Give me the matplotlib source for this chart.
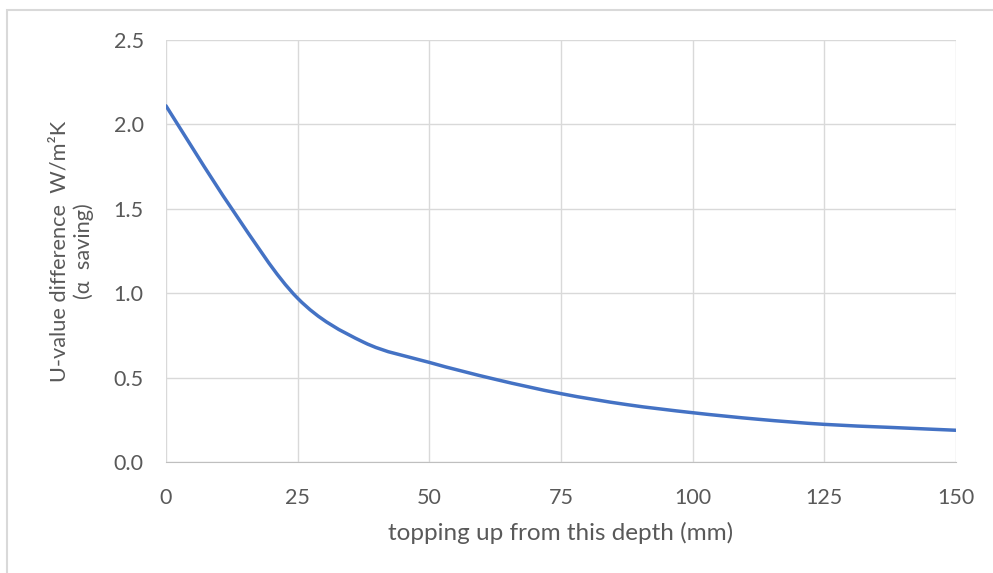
import matplotlib.pyplot as plt
import numpy as np
from matplotlib.path import Path
from matplotlib.patches import PathPatch, Rectangle

# values
depth = [0, 12.5, 25, 37.5, 50, 62.5, 75, 87.5, 100, 112.5, 125, 137.5, 150]
u_diff = [2.11, 1.50, 0.97, 0.71, 0.59, 0.49, 0.405, 0.34, 0.292, 0.253, 0.223, 0.205, 0.188]
xticks = [0, 25, 50, 75, 100, 125, 150]
yticks = [0.0, 0.5, 1.0, 1.5, 2.0, 2.5]

grey = '#595959'
grid = '#d9d9d9'

plt.rcParams['font.family'] = ['Lato', 'DejaVu Sans']


def smooth_path(x, y):
    # excel style smoothed line: bezier with control points from neighbours
    x = np.asarray(x, float)
    y = np.asarray(y, float)
    n = len(x)
    verts = [(x[0], y[0])]
    codes = [Path.MOVETO]
    for i in range(n - 1):
        i0 = max(i - 1, 0)
        i3 = min(i + 2, n - 1)
        c1 = (x[i] + (x[i + 1] - x[i0]) / 6, y[i] + (y[i + 1] - y[i0]) / 6)
        c2 = (x[i + 1] - (x[i3] - x[i]) / 6, y[i + 1] - (y[i3] - y[i]) / 6)
        verts += [c1, c2, (x[i + 1], y[i + 1])]
        codes += [Path.CURVE4] * 3
    return Path(verts, codes)


fig = plt.figure(figsize=(9.93, 5.73), dpi=100)
ax = fig.add_axes([166 / 993, 1 - 462 / 573, 790 / 993, 422 / 573])

ax.add_patch(PathPatch(smooth_path(depth, u_diff), facecolor='none',
                       edgecolor='#4472C4', lw=2.5, capstyle='round'))
ax.plot(depth, u_diff, alpha=0)

ax.set_xlim(0, 150)
ax.set_ylim(0, 2.5)
ax.set_xticks(xticks)
ax.set_yticks(yticks)
ax.set_yticklabels(['%.1f' % v for v in yticks])
ax.grid(True, color=grid, lw=1)
ax.set_axisbelow(True)
for s in ['top', 'right', 'left']:
    ax.spines[s].set_visible(False)
ax.spines['bottom'].set_color('#bfbfbf')
ax.tick_params(length=0, labelsize=15.5, colors=grey)
ax.tick_params(axis='y', pad=16)
ax.tick_params(axis='x', pad=19)

ax.set_xlabel('topping up from this depth (mm)', fontsize=17.5, color=grey, labelpad=10)
ax.set_ylabel('U-value difference  W/m²K\n(α  saving)', fontsize=15.7, color=grey,
              labelpad=14, linespacing=1.25)

# chart border
fig.patches.append(Rectangle((7 / 993, -0.1), 1.2, 1 - 10 / 573 + 0.1,
                             transform=fig.transFigure, fill=False,
                             edgecolor=grid, lw=1.5))

plt.savefig('out.png', dpi=100)
